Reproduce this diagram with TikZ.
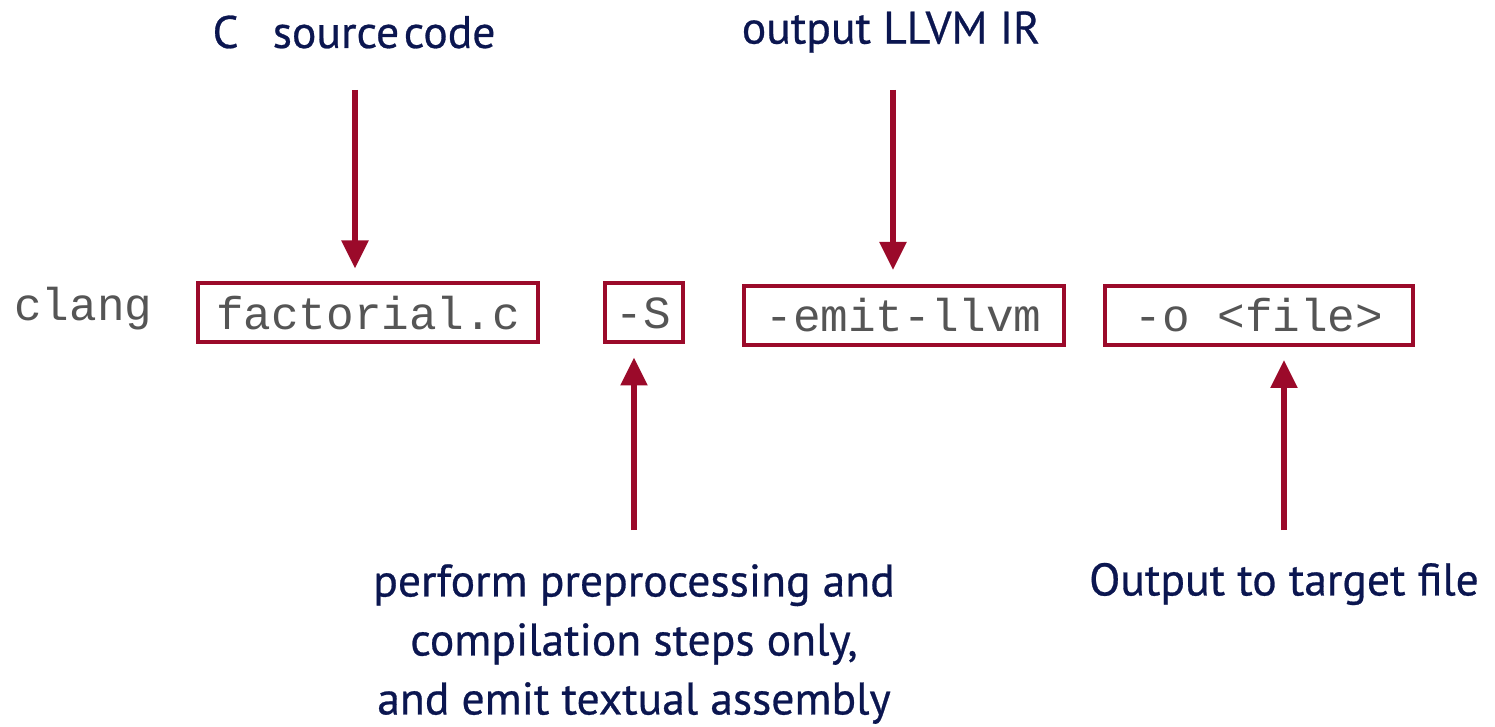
\documentclass[tikz,border=0pt]{standalone}
\usepackage{fontspec}
\setmainfont{PT Sans}[FakeBold=0.6]
\setmonofont{Liberation Mono}
\usetikzlibrary{arrows.meta}
\definecolor{flagred}{HTML}{9B0A2A}
\definecolor{notenavy}{HTML}{0B1650}
\definecolor{cmdgray}{HTML}{555555}
\begin{document}
\begin{tikzpicture}[x=0.5pt,y=-0.5pt,
  note/.style={text=notenavy,font=\fontsize{22.8}{29.5}\selectfont,align=center,inner sep=0pt},
  cmd/.style={text=cmdgray,font=\ttfamily\fontsize{23}{28}\selectfont,inner sep=0pt},
  flagbox/.style={cmd,draw=flagred,line width=2pt,minimum height=29.5pt},
  pointer/.style={draw=flagred,line width=2.6pt,-{Triangle[width=13pt,length=14pt]}}]
\useasboundingbox (0,0) rectangle (1495,727);
% command line
\node[cmd,anchor=west] (clang) at (14,309) {clang};
\node[flagbox,minimum width=170pt] (src) at (368,313) {factorial.c};
\node[flagbox,minimum width=39pt] (s) at (643.5,313) {-S};
\node[flagbox,minimum width=160pt] (emit) at (903.5,315.5) {-emit-llvm};
\node[flagbox,minimum width=154pt] (out) at (1259,315.5) {-o <file>};
% explanations
\node[note] (srcnote) at (354,32) {C\hspace{0.75em}source\hspace{0.1em}code};
\node[note] (irnote) at (891,32) {output LLVM IR};
\node[note] (snote) at (634,644) {perform preprocessing and\\compilation steps only,\\and emit textual assembly};
\node[note] (outnote) at (1284,584) {Output to target file};
% arrow tails
\coordinate (a1) at (355,90);
\coordinate (a2) at (893,90);
\coordinate (a3) at (634,530);
\coordinate (a4) at (1284,530);
% pointers
\draw[pointer,shorten >=6.5pt] (a1) -- (a1 |- src.north);
\draw[pointer,shorten >=7pt] (a2) -- (a2 |- emit.north);
\draw[pointer,shorten >=6.5pt] (a3) -- (a3 |- s.south);
\draw[pointer,shorten >=6.5pt] (a4) -- (a4 |- out.south);
\end{tikzpicture}
\end{document}
